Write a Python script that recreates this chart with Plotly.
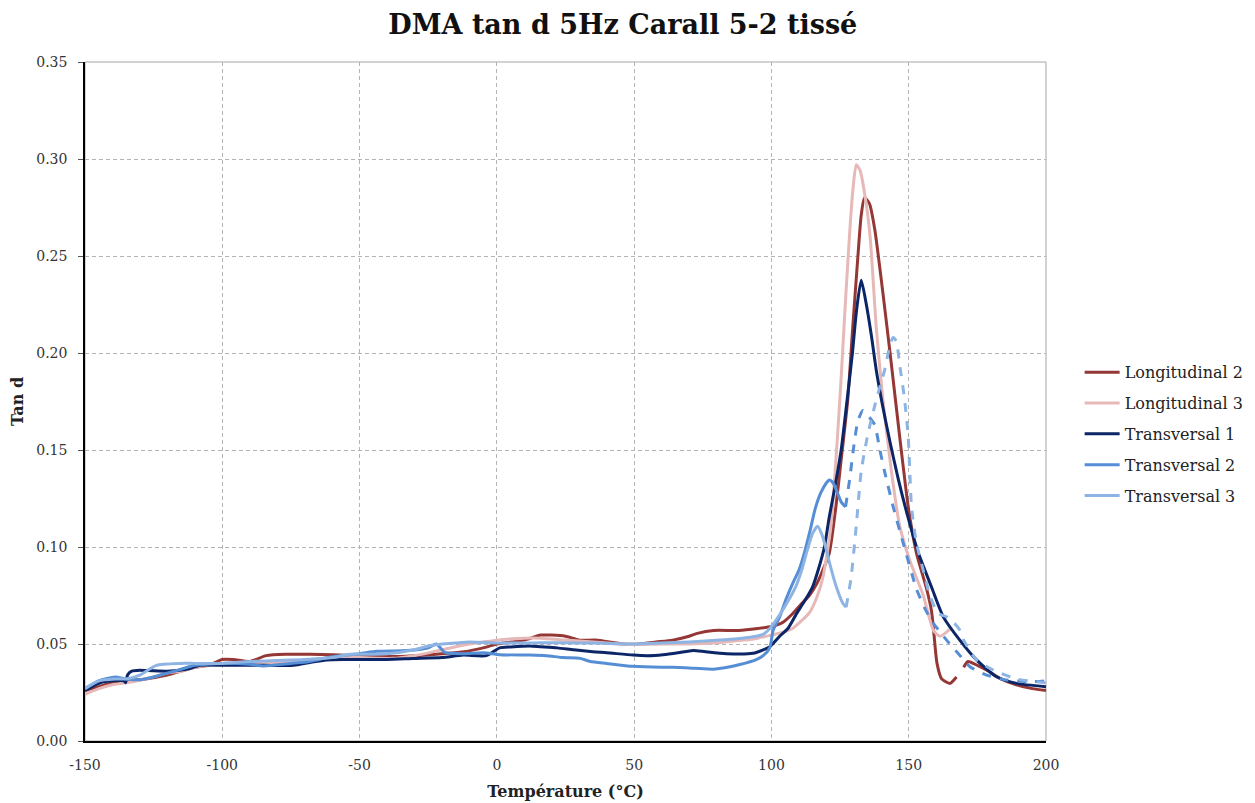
import plotly.graph_objects as go

# ---------------- data ----------------
L2_x = [-150, -145, -140, -135, -128, -120, -115, -110, -105, -100, -96, -90, -84, -77, -68, -60, -50, -40, -30, -20, -12, -5, 0, 5, 10, 16, 20, 25, 30, 36, 46, 52, 58, 64, 70, 73, 79, 88, 95, 100, 104, 107.7, 110.5, 113.8, 116.5, 118.7, 121.1, 123.5, 125.4, 127.8, 129.6, 131.5, 132.7, 133.9, 135.7, 137.6, 140.6, 143.7, 146.7, 149.8, 152.8, 156.5, 158.3, 159.2, 160.3, 162, 165, 167.4, None, 170, 171.6, 175, 178.3, 183.2, 189.2, 195, 200]
L2_y = [0.026, 0.028, 0.030, 0.031, 0.032, 0.034, 0.036, 0.038, 0.039, 0.042, 0.042, 0.041, 0.044, 0.0447, 0.0447, 0.0445, 0.044, 0.0435, 0.044, 0.045, 0.046, 0.048, 0.050, 0.051, 0.052, 0.0546, 0.0546, 0.054, 0.052, 0.052, 0.050, 0.050, 0.051, 0.052, 0.054, 0.0555, 0.057, 0.057, 0.058, 0.059, 0.061, 0.0656, 0.070, 0.075, 0.081, 0.088, 0.097, 0.121, 0.145, 0.176, 0.213, 0.250, 0.271, 0.280, 0.277, 0.264, 0.231, 0.194, 0.157, 0.121, 0.097, 0.0785, 0.067, 0.055, 0.040, 0.032, 0.0297, 0.033, None, 0.038, 0.041, 0.039, 0.0366, 0.0323, 0.029, 0.027, 0.026]

L3_x = [-150, -145, -140, -135, -128, -120, -115, -110, -100, -90, -85, -75, -68, -60, -50, -38, -30, -20, -10, -5, 0, 10, 16, 25, 35, 45, 50, 60, 70, 80, 90, 95, 100, 104, 107.7, 111, 113.8, 116.5, 118.7, 120.3, 121.7, 123, 124.2, 125.3, 126.3, 127.4, 128.5, 129.6, 130.9, 132.3, 134.5, 136, 138.2, 140.6, 143.7, 146.7, 150.4, 155.3, 159, 161.4, 165]
L3_y = [0.024, 0.027, 0.029, 0.030, 0.032, 0.035, 0.036, 0.038, 0.040, 0.040, 0.040, 0.041, 0.042, 0.043, 0.043, 0.0426, 0.044, 0.047, 0.050, 0.051, 0.052, 0.053, 0.053, 0.052, 0.051, 0.050, 0.0497, 0.050, 0.050, 0.0506, 0.052, 0.053, 0.0546, 0.056, 0.058, 0.062, 0.066, 0.074, 0.084, 0.097, 0.111, 0.135, 0.160, 0.185, 0.210, 0.237, 0.262, 0.283, 0.297, 0.294, 0.277, 0.259, 0.213, 0.176, 0.139, 0.111, 0.093, 0.075, 0.057, 0.054, 0.0577]

T1_x = [-150, -144.5, -139.7, -135.8, -135.2, -134.5, -133, -130, -127.5, -120, -113, -108, -100, -85, -74, -68, -62, -55, -48.7, -40, -30.5, -20, -12.3, -3.8, 1, 5, 12, 16, 22, 28, 35, 40, 49.6, 55, 60.5, 66, 71.5, 76, 83.6, 93.3, 97, 99.4, 103, 106, 109.2, 112, 115, 117, 119.3, 121, 123, 125.4, 127.5, 129.5, 131, 132.7, 134.5, 136.4, 138.2, 140.6, 143.2, 146.2, 149.8, 153.5, 158.4, 162.6, 168.6, 174.7, 182, 189.3, 200]
T1_y = [0.026, 0.030, 0.031, 0.031, 0.030, 0.034, 0.036, 0.0365, 0.0363, 0.036, 0.037, 0.039, 0.039, 0.039, 0.039, 0.0405, 0.0418, 0.042, 0.042, 0.042, 0.0425, 0.043, 0.0443, 0.044, 0.048, 0.0485, 0.049, 0.0486, 0.048, 0.047, 0.046, 0.0455, 0.0443, 0.044, 0.0445, 0.0455, 0.0467, 0.046, 0.045, 0.0452, 0.047, 0.0486, 0.054, 0.058, 0.0658, 0.072, 0.0795, 0.088, 0.100, 0.115, 0.130, 0.150, 0.175, 0.200, 0.222, 0.2375, 0.2255, 0.209, 0.191, 0.172, 0.154, 0.135, 0.115, 0.097, 0.079, 0.064, 0.052, 0.0418, 0.0331, 0.0297, 0.028]

T2_x = [-150, -145, -139, -135, -130, -125, -120, -115, -110, -100, -90, -85, -75, -68, -60, -50, -43.8, -35, -29, -25, -22, -19, -12.3, -5, 1, 12, 18, 24, 30.3, 34, 40, 49.6, 60, 64, 72, 78.8, 84, 88.5, 94.5, 97, 99.4, 100.6, 103, 105.3, 108, 110, 112, 114, 116, 118, 120, 121.1, 122.5, 124, 125.5, 127]
T2_y = [0.027, 0.031, 0.033, 0.032, 0.0316, 0.033, 0.035, 0.037, 0.039, 0.040, 0.0395, 0.0387, 0.040, 0.041, 0.0435, 0.045, 0.0462, 0.0465, 0.047, 0.048, 0.050, 0.0457, 0.045, 0.0455, 0.0445, 0.0443, 0.044, 0.043, 0.0426, 0.041, 0.040, 0.0385, 0.038, 0.038, 0.0375, 0.037, 0.038, 0.0394, 0.042, 0.044, 0.048, 0.057, 0.064, 0.073, 0.082, 0.088, 0.097, 0.108, 0.120, 0.128, 0.133, 0.1346, 0.133, 0.128, 0.123, 0.1207]
T2d_x = [127, 128.5, 130, 131.5, 133.3, 135, 137.6, 139.5, 141.2, 144.3, 148, 152.8, 156, 159, 163.8, 168.1, 172.3, 178.4, 185.6, 195.4, 200]
T2d_y = [0.1207, 0.135, 0.152, 0.165, 0.1704, 0.168, 0.163, 0.150, 0.139, 0.121, 0.102, 0.0785, 0.068, 0.0607, 0.052, 0.045, 0.0383, 0.034, 0.0314, 0.0306, 0.031]

T3_x = [-150, -145, -139, -135, -130, -124, -115.4, -110, -100, -90, -80, -70, -60, -53.5, -50, -40, -30, -25, -20, -15, -10, 0, 10, 16, 25, 35, 49.6, 60, 70, 81.3, 92.2, 97, 99.4, 103, 106, 109, 111, 113, 115, 116.8, 118.5, 119.9, 121.5, 123.5, 126, 127.2]
T3_y = [0.027, 0.031, 0.032, 0.032, 0.034, 0.039, 0.040, 0.040, 0.040, 0.041, 0.0415, 0.042, 0.043, 0.0447, 0.0447, 0.045, 0.047, 0.049, 0.050, 0.0505, 0.051, 0.0505, 0.0505, 0.0506, 0.0506, 0.0505, 0.050, 0.0505, 0.051, 0.052, 0.0535, 0.055, 0.058, 0.065, 0.072, 0.080, 0.088, 0.098, 0.107, 0.1107, 0.106, 0.099, 0.090, 0.080, 0.071, 0.069]
T3d_x = [127.2, 129, 130.9, 132.7, 135.1, 138.2, 141.2, 143, 144.3, 145.5, 146.7, 148.5, 149.8, 150.4, 151, 152.8, 155.3, 157.7, 160.7, 163.8, 165.6, 168.7, 170, 174.7, 180.8, 189.3, 200]
T3d_y = [0.069, 0.084, 0.111, 0.139, 0.158, 0.176, 0.191, 0.203, 0.208, 0.206, 0.194, 0.176, 0.157, 0.139, 0.121, 0.102, 0.088, 0.075, 0.0658, 0.064, 0.0624, 0.057, 0.052, 0.0418, 0.0366, 0.032, 0.030]

names = ["Longitudinal 2", "Longitudinal 3", "Transversal 1", "Transversal 2", "Transversal 3"]
colors = ["#953735", "#E6B9B8", "#0B2566", "#558ED5", "#8DB4E2"]

x_ticks = [-150, -100, -50, 0, 50, 100, 150, 200]
x_ticktext = ["-150", "-100", "-50", "0", "50", "100", "150", "200"]

FONT = "DejaVu Serif"

fig = go.Figure()
solid = [(L2_x, L2_y), (L3_x, L3_y), (T1_x, T1_y), (T2_x, T2_y), (T3_x, T3_y)]
for i, (xs, ys) in enumerate(solid):
    fig.add_trace(go.Scatter(x=xs, y=ys, mode="lines", name=names[i],
                             legendgroup=names[i],
                             line=dict(color=colors[i], width=3, shape="spline", smoothing=0.6)))
fig.add_trace(go.Scatter(x=T2d_x, y=T2d_y, mode="lines", showlegend=False,
                         legendgroup=names[3],
                         line=dict(color=colors[3], width=3, dash="dash", shape="spline", smoothing=0.6)))
fig.add_trace(go.Scatter(x=T3d_x, y=T3d_y, mode="lines", showlegend=False,
                         legendgroup=names[4],
                         line=dict(color=colors[4], width=3, dash="dash", shape="spline", smoothing=0.6)))

fig.update_layout(
    width=1247, height=795,
    margin=dict(l=77, r=209, t=54, b=62, autoexpand=False),
    paper_bgcolor="white", plot_bgcolor="white",
    font=dict(family=FONT, size=14, color="#333333"),
    title=dict(text="<b>DMA tan d 5Hz Carall 5-2 tissé</b>", x=0.493, xref="container",
               xanchor="center", y=0.9786, yanchor="middle",
               font=dict(family=FONT, size=27, color="#111111")),
    legend=dict(x=1.035, y=0.568, xanchor="left", yanchor="top",
                font=dict(family=FONT, size=16, color="#222222"),
                tracegroupgap=7, itemwidth=35, bgcolor="rgba(0,0,0,0)"),
    showlegend=True,
)
fig.update_xaxes(range=[-150, 200], tickvals=x_ticks, ticktext=x_ticktext,
                 automargin=False,
                 showgrid=True, gridcolor="#B4B4B4", griddash="4px,3px", gridwidth=1,
                 showline=True, linecolor="#000000", linewidth=1.5,
                 ticks="", zeroline=False, ticklabelstandoff=10,
                 tickfont=dict(family=FONT, size=14, color="#333333"),
                 title=dict(text="<b>Température (°C)</b>", standoff=14,
                            font=dict(family=FONT, size=16, color="#222222")))
fig.update_yaxes(range=[0, 0.35], dtick=0.05, tickformat=".2f",
                 automargin=False,
                 showgrid=True, gridcolor="#B4B4B4", griddash="4px,3px", gridwidth=1,
                 showline=True, linecolor="#000000", linewidth=1.5,
                 ticks="outside", ticklen=5, tickcolor="#555555", zeroline=False,
                 ticklabelstandoff=8,
                 tickfont=dict(family=FONT, size=14, color="#333333"),
                 title=dict(text="<b>Tan d</b>", standoff=14,
                            font=dict(family=FONT, size=16, color="#222222")))
fig.add_shape(type="rect", xref="paper", yref="paper", x0=0, x1=1, y0=0, y1=1,
              line=dict(color="#A6A6A6", width=1), layer="below")

fig.write_html("out.html")
